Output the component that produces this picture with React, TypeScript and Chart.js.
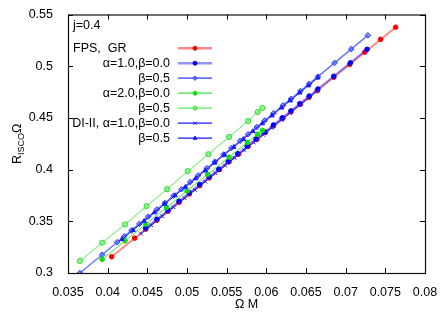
import React, { useEffect, useRef } from "react";
import { Chart, registerables } from "chart.js";
import { drawPoint } from "chart.js/helpers";

Chart.register(...registerables);

const FONT = '"Liberation Sans", Arial, sans-serif';

const xTicks = [0.035, 0.04, 0.045, 0.05, 0.055, 0.06, 0.065, 0.07, 0.075, 0.08];
const xTickLabels = ["0.035", "0.04", "0.045", "0.05", "0.055", "0.06", "0.065", "0.07", "0.075", "0.08"];
const yTicks = [0.3, 0.35, 0.4, 0.45, 0.5, 0.55];
const yTickLabels = ["0.3", "0.35", "0.4", "0.45", "0.5", "0.55"];

const annotationText = "j=0.4";
const xTitle = "Ω M";

// FPS, GR
const fpsGrX = [0.0405, 0.0434, 0.0448, 0.0462, 0.0476, 0.049, 0.0503, 0.0516, 0.0528, 0.0541, 0.0553, 0.0565, 0.0577, 0.0588, 0.0599, 0.0609, 0.0621, 0.0631, 0.0643, 0.0654, 0.0664, 0.0685, 0.0705, 0.0724, 0.0744, 0.0763];
const fpsGrY = [0.3157, 0.3337, 0.3424, 0.351, 0.3597, 0.3684, 0.3765, 0.3845, 0.392, 0.4, 0.4075, 0.4149, 0.4224, 0.4292, 0.436, 0.4422, 0.4497, 0.4559, 0.4633, 0.4701, 0.4763, 0.4893, 0.5017, 0.5135, 0.5259, 0.5377];

// FPS alpha=1.0, beta=0.0
const a1b0X = [0.0448, 0.0462, 0.0476, 0.049, 0.0503, 0.0516, 0.0528, 0.054, 0.0552, 0.0564, 0.0576, 0.0587, 0.0598, 0.0609, 0.062, 0.0631, 0.0642, 0.0654, 0.0665, 0.0685, 0.0706, 0.0727];
const a1b0Y = [0.3434, 0.352, 0.3607, 0.3694, 0.3775, 0.3855, 0.393, 0.4004, 0.4078, 0.4153, 0.4227, 0.4295, 0.4364, 0.4432, 0.45, 0.4568, 0.4636, 0.4711, 0.4779, 0.4903, 0.5033, 0.5163];

// FPS alpha=1.0, beta=0.5
const a1b5X = [0.0365, 0.0393, 0.0412, 0.0421, 0.043, 0.044, 0.0451, 0.0462, 0.0472, 0.0483, 0.0493, 0.0504, 0.0514, 0.0525, 0.0535, 0.0546, 0.0556, 0.0567, 0.0577, 0.0588, 0.0598, 0.0609, 0.0621, 0.0631, 0.0643, 0.0654, 0.0665, 0.0686, 0.0707, 0.0728];
const a1b5Y = [0.3, 0.3177, 0.3298, 0.3355, 0.3411, 0.3475, 0.3544, 0.3614, 0.3677, 0.3747, 0.381, 0.388, 0.3943, 0.4013, 0.4076, 0.4146, 0.4209, 0.4279, 0.4342, 0.4412, 0.4475, 0.4545, 0.4621, 0.4684, 0.476, 0.4829, 0.4899, 0.5032, 0.5165, 0.5298];

// FPS alpha=2.0, beta=0.0
const a2b0X = [0.0393, 0.0422, 0.0448, 0.0474, 0.05, 0.0526, 0.0553, 0.0576, 0.0589, 0.0595];
const a2b0Y = [0.3132, 0.3311, 0.3472, 0.3633, 0.3793, 0.3954, 0.4121, 0.4263, 0.4343, 0.438];

// FPS alpha=2.0, beta=0.5
const a2b5X = [0.0365, 0.0393, 0.0422, 0.0449, 0.0475, 0.0501, 0.0527, 0.0553, 0.0577, 0.0589, 0.0595];
const a2b5Y = [0.3116, 0.3293, 0.347, 0.3647, 0.3811, 0.3985, 0.4149, 0.4316, 0.447, 0.4557, 0.4596];

// DI-II alpha=1.0, beta=0.0
const di1b0X = [0.0442, 0.0455, 0.0469, 0.0483, 0.0497, 0.051, 0.0523, 0.0536, 0.0548, 0.056, 0.0572, 0.0584, 0.0596, 0.0607, 0.0619, 0.063, 0.0642, 0.0653, 0.0665];
const di1b0Y = [0.3381, 0.3462, 0.3549, 0.3636, 0.3722, 0.3803, 0.3884, 0.3964, 0.4039, 0.4113, 0.4187, 0.4262, 0.4336, 0.4404, 0.4479, 0.4547, 0.4621, 0.469, 0.4764];

// DI-II alpha=1.0, beta=0.5
const di1b5X = [0.0418, 0.0432, 0.0446, 0.0459, 0.0472, 0.0485, 0.0498, 0.0511, 0.0523, 0.0535, 0.0547, 0.0559, 0.0571, 0.0583, 0.0595, 0.0607, 0.0619, 0.063, 0.0642, 0.0653, 0.0665];
const di1b5Y = [0.3326, 0.3414, 0.3503, 0.3585, 0.3667, 0.375, 0.3832, 0.3914, 0.399, 0.4066, 0.4142, 0.4218, 0.4294, 0.437, 0.4446, 0.4522, 0.4598, 0.4667, 0.4743, 0.4813, 0.4889];

const seriesLabels = ["FPS,  GR", "α=1.0,β=0.0", "β=0.5", "α=2.0,β=0.0", "β=0.5", "DI-II, α=1.0,β=0.0", "β=0.5"];

const zip = (xs: number[], ys: number[]) => xs.map((x, i) => ({ x, y: ys[i] }));

const seriesDefs = [
  { xs: fpsGrX, ys: fpsGrY, line: "rgba(255,40,40,0.55)", lw: 2, legendLw: 2.5, mk: "#ff0000", fill: "#ff0000", style: "circle", r: 2.3, lr: 2 },
  { xs: a1b0X, ys: a1b0Y, line: "rgba(40,40,255,0.5)", lw: 2, legendLw: 2.5, mk: "#0000ff", fill: "#0000ff", style: "circle", r: 2.3, lr: 2 },
  { xs: a1b5X, ys: a1b5Y, line: "rgba(50,70,255,0.75)", lw: 1.4, legendLw: 1.8, mk: "#2a3cff", fill: "rgba(80,100,255,0.7)", style: "rectRot", r: 2.8, lr: 2.2 },
  { xs: a2b0X, ys: a2b0Y, line: "rgba(30,220,30,0.85)", lw: 1, legendLw: 1.2, mk: "#10dd10", fill: "#10dd10", style: "circle", r: 2.3, lr: 2 },
  { xs: a2b5X, ys: a2b5Y, line: "rgba(60,230,60,0.85)", lw: 1, legendLw: 1.2, mk: "#30dd30", fill: "rgba(110,235,110,0.7)", style: "circle", r: 2.6, lr: 2 },
  { xs: di1b0X, ys: di1b0Y, line: "#1a1aff", lw: 1, legendLw: 1.2, mk: "#1a1aff", fill: "#1a1aff", style: "crossRot", r: 2.6, lr: 2.2 },
  { xs: di1b5X, ys: di1b5Y, line: "#1a1aff", lw: 1, legendLw: 1.2, mk: "#1a1aff", fill: "#1a1aff", style: "triangle", r: 2.6, lr: 2.2 },
];

const decorPlugin = {
  id: "decor",
  afterDraw(chart: any) {
    const { ctx, chartArea, scales } = chart;
    const { left, right, top, bottom } = chartArea;
    ctx.save();
    // inward ticks
    ctx.strokeStyle = "#000";
    ctx.lineWidth = 1;
    const tl = 5;
    ctx.beginPath();
    xTicks.forEach((v) => {
      const px = Math.round(scales.x.getPixelForValue(v)) + 0.5;
      ctx.moveTo(px, bottom);
      ctx.lineTo(px, bottom - tl);
      ctx.moveTo(px, top);
      ctx.lineTo(px, top + tl);
    });
    yTicks.forEach((v) => {
      const py = Math.round(scales.y.getPixelForValue(v)) + 0.5;
      ctx.moveTo(left, py);
      ctx.lineTo(left + tl, py);
      ctx.moveTo(right, py);
      ctx.lineTo(right - tl, py);
    });
    ctx.stroke();
    // border
    ctx.lineWidth = 1.2;
    ctx.strokeStyle = "#111";
    ctx.strokeRect(left + 0.5, top + 0.5, right - left, bottom - top);

    // annotation
    ctx.fillStyle = "#000";
    ctx.font = `12.5px ${FONT}`;
    ctx.textBaseline = "middle";
    ctx.textAlign = "left";
    ctx.fillText(annotationText, left + 5, top + 11);

    // legend
    const rowY0 = top + 33.7;
    const rowH = 15;
    const textRight = left + 102;
    const lineX0 = left + 110;
    const lineX1 = left + 144;
    const mkX = left + 127;
    chart.data.datasets.forEach((ds: any, i: number) => {
      const def = seriesDefs[i];
      const y = rowY0 + i * rowH;
      ctx.fillStyle = "#000";
      ctx.font = `12.5px ${FONT}`;
      if (i === 0) {
        ctx.textAlign = "left";
        ctx.fillText(ds.label, left + 5, y);
      } else {
        ctx.textAlign = "right";
        ctx.fillText(ds.label, textRight, y);
      }
      ctx.strokeStyle = def.line;
      ctx.lineWidth = def.legendLw;
      ctx.beginPath();
      ctx.moveTo(lineX0, y);
      ctx.lineTo(lineX1, y);
      ctx.stroke();
      ctx.fillStyle = def.fill;
      ctx.strokeStyle = def.mk;
      ctx.lineWidth = 1;
      drawPoint(ctx, { pointStyle: def.style, radius: def.lr, rotation: 0, borderWidth: 1 } as any, mkX, y);
    });

    // x title
    ctx.fillStyle = "#000";
    ctx.font = `12.5px ${FONT}`;
    ctx.textAlign = "center";
    ctx.textBaseline = "middle";
    ctx.fillText(xTitle, (left + right) / 2, bottom + 32);

    // y title: R_ISCO Ω
    const big = `12.5px ${FONT}`;
    const small = `9px ${FONT}`;
    ctx.font = big;
    const wR = ctx.measureText("R").width;
    const wO = ctx.measureText("Ω").width;
    ctx.font = small;
    const wS = ctx.measureText("ISCO").width;
    const total = wR + wS + wO;
    ctx.translate(17, (top + bottom) / 2);
    ctx.rotate(-Math.PI / 2);
    ctx.textAlign = "left";
    ctx.textBaseline = "alphabetic";
    let cx = -total / 2;
    ctx.font = big;
    ctx.fillText("R", cx, 4);
    cx += wR;
    ctx.font = small;
    ctx.fillText("ISCO", cx, 7);
    cx += wS;
    ctx.font = big;
    ctx.fillText("Ω", cx, 4);
    ctx.restore();
  },
};

export default function App() {
  const ref = useRef<HTMLCanvasElement | null>(null);
  useEffect(() => {
    if (!ref.current) return;
    const n = seriesDefs.length;
    const chart = new Chart(ref.current, {
      type: "line",
      data: {
        datasets: seriesDefs.map((d, i) => ({
          label: seriesLabels[i],
          data: zip(d.xs, d.ys),
          borderColor: d.line,
          borderWidth: d.lw,
          backgroundColor: d.fill,
          pointBackgroundColor: d.fill,
          pointBorderColor: d.mk,
          pointBorderWidth: 1,
          pointStyle: d.style as any,
          pointRadius: d.r,
          pointHoverRadius: d.r,
          fill: false,
          tension: 0,
          order: n - i,
        })),
      },
      options: {
        responsive: false,
        animation: false,
        events: [],
        layout: { padding: { left: 0, top: 14, right: 23, bottom: 0 } },
        plugins: { legend: { display: false }, tooltip: { enabled: false }, title: { display: false } },
        scales: {
          x: {
            type: "linear",
            min: 0.035,
            max: 0.08,
            grid: { display: false },
            border: { display: false },
            afterBuildTicks: (s: any) => {
              s.ticks = xTicks.map((v) => ({ value: v }));
            },
            afterFit: (s: any) => {
              s.height = 40;
            },
            ticks: {
              autoSkip: false,
              maxRotation: 0,
              padding: 4,
              color: "#000",
              font: { family: FONT, size: 12.5 },
              callback: (v: any) => xTickLabels[xTicks.indexOf(Number(v))] ?? "",
            },
          },
          y: {
            type: "linear",
            min: 0.3,
            max: 0.55,
            grid: { display: false },
            border: { display: false },
            afterBuildTicks: (s: any) => {
              s.ticks = yTicks.map((v) => ({ value: v }));
            },
            afterFit: (s: any) => {
              s.width = 68;
            },
            ticks: {
              autoSkip: false,
              padding: 7,
              color: "#000",
              font: { family: FONT, size: 12.5 },
              callback: (v: any) => yTickLabels[yTicks.indexOf(Number(v))] ?? "",
            },
          },
        },
      },
      plugins: [decorPlugin],
    });
    return () => chart.destroy();
  }, []);
  return (
    <div style={{ position: "absolute", left: 0, top: 0, width: 448, height: 313, background: "#fff" }}>
      <canvas ref={ref} width={448} height={313} style={{ display: "block" }} />
    </div>
  );
}
